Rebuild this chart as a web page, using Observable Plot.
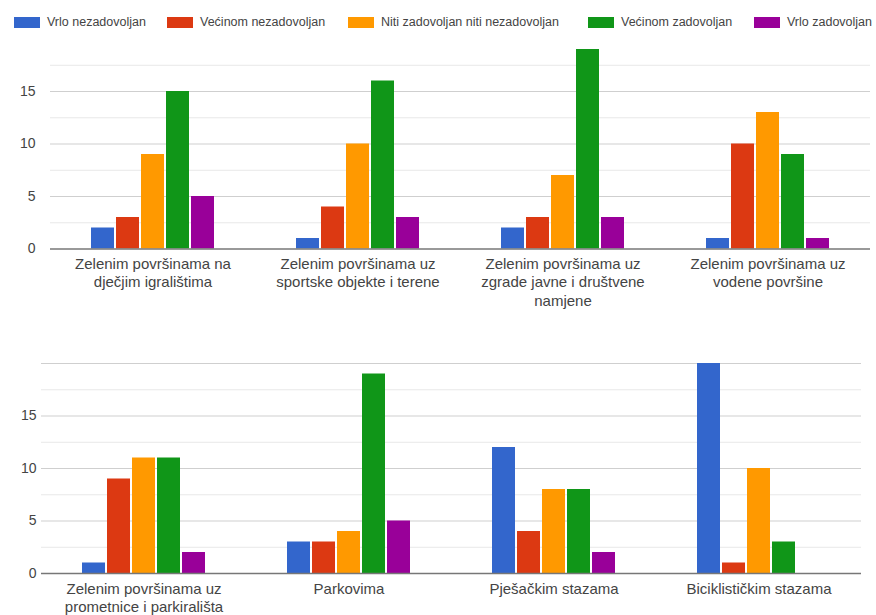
<!DOCTYPE html>
<html>
<head>
<meta charset="utf-8">
<script src="https://cdn.jsdelivr.net/npm/d3@7"></script>
<script src="https://cdn.jsdelivr.net/npm/@observablehq/plot@0.6"></script>
<style>
  body { margin: 0; background: #fff; font-family: "Liberation Sans", Arial, sans-serif; }
  #legend { position: relative; width: 876px; height: 35px; }
  .item { position: absolute; top: 17px; display: flex; align-items: center; font-size: 12.5px; color: #444; white-space: nowrap; line-height: 11px; }
  .sw { width: 26px; height: 11px; margin-right: 7px; }
  svg { display: block; }
</style>
</head>
<body>
<div id="legend"></div>
<div id="top"></div>
<div id="bottom"></div>
<script>
const series = ["Vrlo nezadovoljan", "Većinom nezadovoljan", "Niti zadovoljan niti nezadovoljan", "Većinom zadovoljan", "Vrlo zadovoljan"];
const colors = ["#3366cc", "#dc3912", "#ff9900", "#109618", "#990099"];

const categories = [
  "Zelenim površinama na dječjim igralištima",
  "Zelenim površinama uz sportske objekte i terene",
  "Zelenim površinama uz zgrade javne i društvene namjene",
  "Zelenim površinama uz vodene površine",
  "Zelenim površinama uz prometnice i parkirališta",
  "Parkovima",
  "Pješačkim stazama",
  "Biciklističkim stazama"
];
const categoryLabels = [
  "Zelenim površinama na\ndječjim igralištima",
  "Zelenim površinama uz\nsportske objekte i terene",
  "Zelenim površinama uz\nzgrade javne i društvene\nnamjene",
  "Zelenim površinama uz\nvodene površine",
  "Zelenim površinama uz\nprometnice i parkirališta",
  "Parkovima",
  "Pješačkim stazama",
  "Biciklističkim stazama"
];

const vrloNezadovoljan    = [2, 1, 2, 1, 1, 3, 12, 20];
const vecinomNezadovoljan = [3, 4, 3, 10, 9, 3, 4, 1];
const nitiNiti            = [9, 10, 7, 13, 11, 4, 8, 10];
const vecinomZadovoljan   = [15, 16, 19, 9, 11, 19, 8, 3];
const vrloZadovoljan      = [5, 3, 3, 1, 2, 5, 2, 0];

const yTicks = [0, 5, 10, 15];

const seriesValues = [vrloNezadovoljan, vecinomNezadovoljan, nitiNiti, vecinomZadovoljan, vrloZadovoljan];
const rows = categories.flatMap((c, i) => series.map((s, j) => ({category: c, series: s, value: seriesValues[j][i]})));

// legend
const legendLefts = [14, 167, 348, 588, 754];
const legend = document.getElementById("legend");
series.forEach((s, i) => {
  const it = document.createElement("div");
  it.className = "item";
  it.style.left = legendLefts[i] + "px";
  const sw = document.createElement("div");
  sw.className = "sw";
  sw.style.background = colors[i];
  it.appendChild(sw);
  it.appendChild(document.createTextNode(s));
  legend.appendChild(it);
});

function panel(cats, cfg) {
  const data = rows.filter(d => cats.includes(d.category));
  const major = d3.range(5, cfg.ymax + 0.01, 5);
  const minor = d3.range(2.5, cfg.ymax + 0.01, 5);
  return Plot.plot({
    width: 876,
    height: 290,
    marginTop: cfg.marginTop,
    marginBottom: cfg.marginBottom,
    marginLeft: cfg.marginLeft,
    marginRight: cfg.marginRight,
    style: {fontFamily: "'Liberation Sans', Arial, sans-serif", color: "#444", background: "#fff"},
    fx: {domain: cats, padding: 0, label: null},
    x: {domain: series, paddingInner: 0.08, paddingOuter: 0, insetLeft: 39, insetRight: 39, axis: null},
    y: {domain: [0, cfg.ymax], label: null},
    color: {domain: series, range: colors},
    marks: [
      Plot.gridY(minor, {stroke: "#e8e8e8", strokeOpacity: 1}),
      Plot.gridY(major, {stroke: "#cfcfcf", strokeOpacity: 1}),
      Plot.axisY(yTicks, {tickSize: 0, tickPadding: cfg.tickPadding, fontSize: 14, fill: "#444", label: null}),
      Plot.axisFx({
        anchor: "bottom", tickSize: 0, tickPadding: 7, fontSize: 15, fill: "#444", label: null,
        lineHeight: 1.22,
        tickFormat: d => categoryLabels[categories.indexOf(d)]
      }),
      Plot.barY(data, {fx: "category", x: "series", y: "value", fill: "series"}),
      Plot.ruleY([0], {stroke: "#777", strokeWidth: 1.3})
    ]
  });
}

document.getElementById("top").appendChild(panel(categories.slice(0, 4), {
  ymax: 19, marginTop: 14, marginBottom: 76.5, marginLeft: 48, marginRight: 5, tickPadding: 15
}));
document.getElementById("bottom").appendChild(panel(categories.slice(4), {
  ymax: 20, marginTop: 38, marginBottom: 42, marginLeft: 40, marginRight: 14, tickPadding: 5
}));
</script>
</body>
</html>
